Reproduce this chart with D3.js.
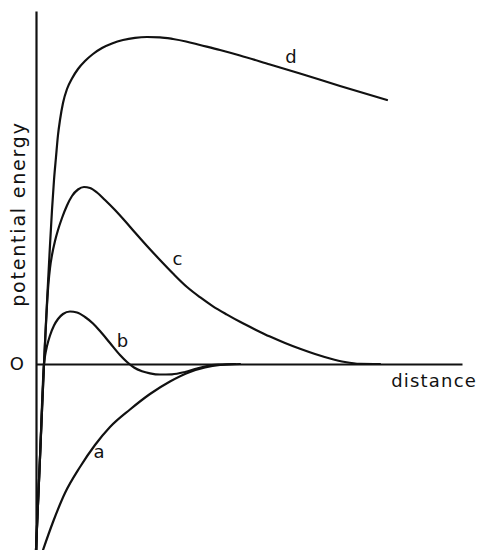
<!DOCTYPE html>
<html>
<head>
<meta charset="utf-8">
<script src="https://cdn.jsdelivr.net/npm/d3@7"></script>
<style>
  html, body { margin: 0; padding: 0; background: #fff; }
  svg { display: block; }
  .lbl { font-family: "DejaVu Sans", sans-serif; fill: #111; }
</style>
</head>
<body>
<svg id="chart" width="479" height="550"></svg>
<script>
// Potential energy versus separation distance, four interaction curves.
// Each series is a list of [distance, energy] pairs in arbitrary units.

// shared steep repulsive wall at very short range
const wall = [[0, -18.6], [0.4, -9.35], [0.8, 0]];

const curveA = [[0.7, -18.6], [1.7, -15.8], [2.9, -12.9], [4.4, -10.3], [5.9, -8.1], [7.4, -6.3],
  [9.4, -4.55], [11.4, -3.0], [13.4, -1.75], [15.4, -0.8], [16.9, -0.35], [18.4, -0.1], [20.4, 0]];

const curveB = wall.concat([[0.9, 0.8], [1.1, 1.8], [1.4, 2.85], [1.8, 3.85], [2.2, 4.5],
  [2.7, 5.0], [3.4, 5.25], [4.1, 5.15], [4.9, 4.7], [5.7, 4.05], [6.4, 3.3], [7.4, 2.1],
  [8.4, 0.9], [9.1, 0.2], [9.8, -0.35], [10.6, -0.72], [11.4, -0.93], [12.4, -1.05],
  [13.6, -1.03], [14.9, -0.8], [16.1, -0.45], [17.1, -0.2], [18.4, -0.06], [19.9, 0]]);

const curveC = wall.concat([[0.95, 3.1], [1.1, 5.9], [1.25, 8.1], [1.4, 9.6], [1.6, 10.9],
  [1.9, 12.3], [2.2, 13.4], [2.6, 14.6], [3.1, 15.85], [3.6, 16.8], [4.2, 17.45], [4.8, 17.7],
  [5.4, 17.6], [6.1, 17.15], [6.9, 16.4], [7.9, 15.4], [8.9, 14.3], [9.9, 13.15], [11.1, 11.8],
  [12.4, 10.4], [13.7, 9.05], [15.1, 7.7], [16.4, 6.68], [17.7, 5.77], [19.1, 4.94], [20.4, 4.22],
  [21.9, 3.46], [23.4, 2.74], [24.9, 2.1], [26.4, 1.52], [27.9, 1.0], [29.4, 0.55], [30.9, 0.2],
  [32.4, 0.02], [34.4, 0]]);

const curveD = wall.concat([[1.0, 4.2], [1.2, 8.1], [1.4, 11.9], [1.6, 15.4], [1.8, 18.4],
  [2.0, 20.7], [2.2, 22.9], [2.4, 24.4], [2.7, 26.1], [3.1, 27.5], [3.6, 28.55], [4.2, 29.5],
  [4.9, 30.3], [5.7, 31.0], [6.6, 31.6], [7.6, 32.05], [8.7, 32.4], [9.9, 32.62], [11.1, 32.7],
  [12.4, 32.67], [13.7, 32.5], [15.0, 32.25], [16.4, 31.9], [18.4, 31.4], [20.4, 30.85],
  [23.4, 29.95], [26.4, 29.05], [30.4, 27.8], [35.1, 26.4]]);

const seriesNames = ["a", "b", "c", "d"];
const seriesData = [curveA, curveB, curveC, curveD];
// anchor point (distance, energy) for each curve's letter
const labelAnchors = [[6.3, -9.4], [8.65, 1.7], [14.15, 9.9], [25.5, 30.1]];

const originLabel = "O";
const xTitle = "distance";
const yTitle = "potential energy";

const svg = d3.select("#chart");

const x = d3.scaleLinear().domain([0, 42.6]).range([36, 462]);
const y = d3.scaleLinear().domain([-18.6, 35.3]).range([550, 11]);

// vertical axis: bare line, no ticks
const yAxis = svg.append("g")
  .attr("transform", `translate(${x(0)},0)`)
  .call(d3.axisLeft(y).tickValues([]).tickSizeOuter(0));
yAxis.select(".domain").attr("stroke", "#111").attr("stroke-width", 2.2);

// horizontal axis through zero energy
const xAxis = svg.append("g")
  .attr("transform", `translate(0,${y(0)})`)
  .call(d3.axisBottom(x).tickValues([]).tickSizeOuter(0));
xAxis.select(".domain").attr("stroke", "#111").attr("stroke-width", 2.2);

// origin mark on the energy axis
const yTicks = svg.append("g")
  .attr("transform", `translate(${x(0)},0)`)
  .call(d3.axisLeft(y).tickValues([0]).tickSize(0).tickPadding(12).tickFormat(() => originLabel));
yTicks.select(".domain").remove();
yTicks.selectAll("text")
  .attr("class", "lbl")
  .attr("font-size", 18)
  .attr("font-family", "DejaVu Sans, sans-serif")
  .attr("fill", "#111");

const line = d3.line()
  .x(d => x(d[0]))
  .y(d => y(d[1]))
  .curve(d3.curveMonotoneX);

svg.append("g")
  .selectAll("path")
  .data(seriesData)
  .join("path")
  .attr("d", line)
  .attr("fill", "none")
  .attr("stroke", "#111")
  .attr("stroke-width", 2.2)
  .attr("stroke-linejoin", "round")
  .attr("stroke-linecap", "round");

svg.append("g")
  .selectAll("text")
  .data(seriesNames)
  .join("text")
  .attr("class", "lbl")
  .attr("x", (d, i) => x(labelAnchors[i][0]))
  .attr("y", (d, i) => y(labelAnchors[i][1]))
  .attr("text-anchor", "middle")
  .attr("font-size", 18)
  .text(d => d);

svg.append("text")
  .attr("class", "lbl")
  .attr("x", 477)
  .attr("y", 387)
  .attr("text-anchor", "end")
  .attr("font-size", 18)
  .attr("letter-spacing", 1.2)
  .text(xTitle);

svg.append("text")
  .attr("class", "lbl")
  .attr("transform", "translate(25,214) rotate(-90)")
  .attr("text-anchor", "middle")
  .attr("font-size", 19)
  .attr("letter-spacing", 1.8)
  .text(yTitle);
</script>
</body>
</html>
